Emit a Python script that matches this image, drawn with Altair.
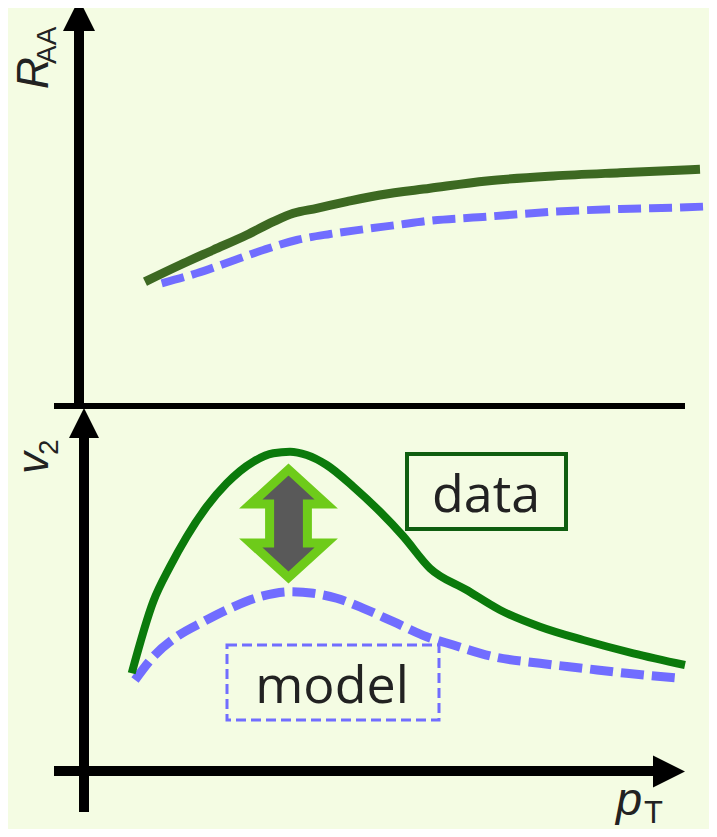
import altair as alt
import pandas as pd

# ---- schematic data (units: reference-picture coordinates) ----
raa_data_pt = [145, 180, 213.3, 246.7, 273.3, 293.3, 316.7, 346.7, 380, 430, 486.7, 553.3, 620, 700]
raa_data_val = [281.7, 265, 250, 235, 221.7, 213.3, 208.3, 201.7, 195, 188.3, 181, 176, 172.7, 169.3]
raa_model_pt = [161.7, 196.7, 230, 263.3, 296.7, 330, 363.3, 396.7, 430, 486.7, 553.3, 620, 686.7, 716.7]
raa_model_val = [283.3, 273.3, 261.7, 250, 240, 234, 229.3, 225, 220.7, 216.7, 211.7, 209, 207.3, 206]

v2_data_pt = [131.7, 153.3, 170, 186.7, 206.7, 226.7, 253.3, 273.3, 290, 306.7, 326.7, 353.3,
              380, 403, 430, 466.7, 500, 540, 583.3, 633.3, 685]
v2_data_val = [673.3, 601.5, 566.7, 536.7, 506.7, 483.3, 461.7, 453.3, 451.7, 455, 465, 486.7,
               511.7, 536, 568.3, 590, 610, 626.7, 640, 653.3, 665]
v2_model_pt = [135, 153.3, 176.7, 203.3, 230, 260, 290, 313.3, 336.7, 363.3, 393.3, 426.7, 453.3,
               493.3, 540, 583.3, 626.7, 680]
v2_model_val = [680, 656.7, 636.7, 621.7, 608.3, 596.7, 591.7, 593.3, 598.3, 608.3, 621.7, 636.7, 645,
                656.7, 663.3, 668.3, 673.3, 678.3]

# axes geometry
top_vaxis = {"x": [79], "y": [28], "y2": [403]}
mid_haxis = {"x": [54], "x2": [685], "y": [406]}
bot_vaxis = {"x": [84], "y": [436], "y2": [812]}
bot_haxis = {"x": [54], "x2": [655], "y": [771]}
up_heads = {"x": [79, 84], "y": [15, 423], "s": [1024, 900]}
right_head = {"x": [669], "y": [771.5]}

data_box = {"x": [407], "x2": [566], "y": [454], "y2": [529]}
model_box = {"x": [227], "x2": [439], "y": [645], "y2": [720]}
gap_arrow = {"x": [288.5], "y": [523.5]}

labels_main = {"x": [48, 48], "y": [89, 474], "t": ["R", "v"]}
labels_sub = {"x": [56, 58], "y": [64, 455], "t": ["AA", "2"]}
pt_main = {"x": [616], "y": [815], "t": ["p"]}
pt_sub = {"x": [644], "y": [823], "t": ["T"]}
box_text = {"x": [486, 332], "y": [512, 703], "t": ["data", "model"]}

BG = "#F4FCE3"
# the page has an 8px margin on every side: the visible canvas covers 8..709 x 8..829
xs = alt.Scale(domain=[8, 709], nice=False, zero=False)
ys = alt.Scale(domain=[8, 829], nice=False, zero=False, reverse=True)


def X(f="x"):
    return alt.X(f"{f}:Q", scale=xs, axis=None)


def Y(f="y"):
    return alt.Y(f"{f}:Q", scale=ys, axis=None)


layers = []

# axes
layers.append(alt.Chart(pd.DataFrame(top_vaxis)).mark_rule(color="black", strokeWidth=10).encode(
    x=X(), y=Y(), y2="y2:Q"))
layers.append(alt.Chart(pd.DataFrame(mid_haxis)).mark_rule(color="black", strokeWidth=6).encode(
    x=X(), x2="x2:Q", y=Y()))
layers.append(alt.Chart(pd.DataFrame(bot_vaxis)).mark_rule(color="black", strokeWidth=10).encode(
    x=X(), y=Y(), y2="y2:Q"))
layers.append(alt.Chart(pd.DataFrame(bot_haxis)).mark_rule(color="black", strokeWidth=10).encode(
    x=X(), x2="x2:Q", y=Y()))
layers.append(alt.Chart(pd.DataFrame(up_heads)).mark_point(
    shape="M0,-1L1,1L-1,1Z", filled=True, color="black", opacity=1, strokeWidth=0).encode(
    x=X(), y=Y(), size=alt.Size("s:Q", scale=None, legend=None)))
layers.append(alt.Chart(pd.DataFrame(right_head)).mark_point(
    shape="M1,0L-1,-1L-1,1Z", filled=True, color="black", opacity=1, strokeWidth=0, size=1024).encode(
    x=X(), y=Y()))

# curves
layers.append(alt.Chart(pd.DataFrame({"x": raa_model_pt, "y": raa_model_val})).mark_line(
    color="#716DFF", strokeWidth=8, strokeDash=[23, 8], interpolate="monotone").encode(x=X(), y=Y()))
layers.append(alt.Chart(pd.DataFrame({"x": raa_data_pt, "y": raa_data_val})).mark_line(
    color="#3D6922", strokeWidth=9, interpolate="monotone").encode(x=X(), y=Y()))
layers.append(alt.Chart(pd.DataFrame({"x": v2_model_pt, "y": v2_model_val})).mark_line(
    color="#716DFF", strokeWidth=9, strokeDash=[23, 8], interpolate="monotone").encode(x=X(), y=Y()))
layers.append(alt.Chart(pd.DataFrame({"x": v2_data_pt, "y": v2_data_val})).mark_line(
    color="#0B7A0B", strokeWidth=8, interpolate="monotone").encode(x=X(), y=Y()))

# boxes
layers.append(alt.Chart(pd.DataFrame(data_box)).mark_rect(
    fillOpacity=0, stroke="#0F5E10", strokeWidth=4).encode(x=X(), x2="x2:Q", y=Y(), y2="y2:Q"))
layers.append(alt.Chart(pd.DataFrame(model_box)).mark_rect(
    fillOpacity=0, stroke="#716DFF", strokeWidth=3, strokeDash=[10, 5]).encode(
    x=X(), x2="x2:Q", y=Y(), y2="y2:Q"))

# double-headed arrow
layers.append(alt.Chart(pd.DataFrame(gap_arrow)).mark_point(
    shape="M0,-1L0.7,-0.36L0.35,-0.36L0.35,0.36L0.7,0.36L0,1L-0.7,0.36L-0.35,0.36L-0.35,-0.36L-0.7,-0.36Z",
    filled=True, fill="#595959", stroke="#6ECB1A", strokeWidth=9, strokeJoin="miter",
    opacity=1, size=11664).encode(x=X(), y=Y()))

# texts
layers.append(alt.Chart(pd.DataFrame(labels_main)).mark_text(
    font="Liberation Sans", fontStyle="italic", fontSize=44, angle=270, align="left",
    baseline="alphabetic", color="#222222").encode(x=X(), y=Y(), text="t:N"))
layers.append(alt.Chart(pd.DataFrame(labels_sub)).mark_text(
    font="Liberation Sans", fontSize=28, angle=270, align="left",
    baseline="alphabetic", color="#222222").encode(x=X(), y=Y(), text="t:N"))
layers.append(alt.Chart(pd.DataFrame(pt_main)).mark_text(
    font="Liberation Sans", fontStyle="italic", fontSize=47, align="left",
    baseline="alphabetic", color="#222222").encode(x=X(), y=Y(), text="t:N"))
layers.append(alt.Chart(pd.DataFrame(pt_sub)).mark_text(
    font="Liberation Sans", fontSize=31, align="left",
    baseline="alphabetic", color="#222222").encode(x=X(), y=Y(), text="t:N"))
layers.append(alt.Chart(pd.DataFrame(box_text)).mark_text(
    font="Open Sans", fontSize=52, align="center",
    baseline="alphabetic", color="#222222").encode(x=X(), y=Y(), text="t:N"))

chart = alt.layer(*layers).properties(
    width=701, height=821, padding=0, autosize="none", background=BG
).configure_view(strokeWidth=0)

chart.save("out.html", embed_options={"renderer": "svg", "actions": False})
